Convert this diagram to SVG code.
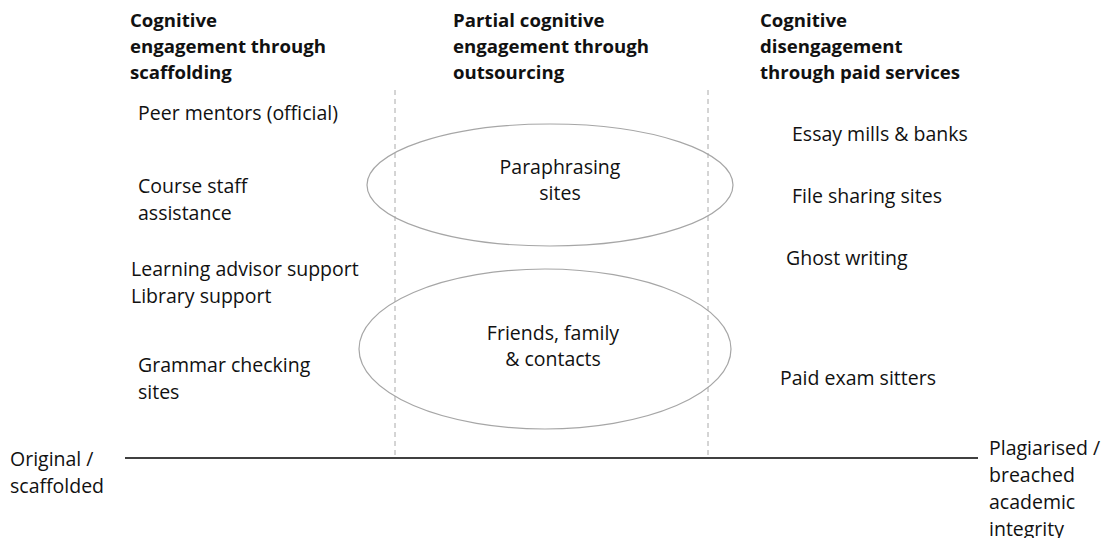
<svg xmlns="http://www.w3.org/2000/svg" width="1102" height="538" viewBox="0 0 1102 538">
<style>
text{font-family:"Open Sans","Liberation Sans",sans-serif;font-size:19.5px;fill:#111}
.h{font-weight:bold;font-size:18.6px}
.c{text-anchor:middle}
.dash{stroke:#aaa;stroke-width:1;stroke-dasharray:5,4;fill:none}
.ell{stroke:#a6a6a6;stroke-width:1.2;fill:none}
</style>
<rect width="1102" height="538" fill="#fff"/>
<g id="connectors">
<line class="dash" x1="395" y1="90" x2="395" y2="458"/>
<line class="dash" x1="708" y1="90" x2="708" y2="458"/>
<line x1="125" y1="458" x2="978" y2="458" stroke="#000" stroke-width="1.5"/>
</g>
<g id="header1"><text class="h" x="130" y="27">Cognitive</text><text class="h" x="130" y="53">engagement through</text><text class="h" x="130" y="79">scaffolding</text></g>
<g id="header2"><text class="h" x="453" y="27">Partial cognitive</text><text class="h" x="453" y="53">engagement through</text><text class="h" x="453" y="79">outsourcing</text></g>
<g id="header3"><text class="h" x="760" y="27">Cognitive</text><text class="h" x="760" y="53">disengagement</text><text class="h" x="760" y="79">through paid services</text></g>
<g id="peer"><text x="138" y="120">Peer mentors (official)</text></g>
<g id="course"><text x="138" y="193">Course staff</text><text x="138" y="220">assistance</text></g>
<g id="learning"><text x="131" y="276">Learning advisor support</text><text x="131" y="303">Library support</text></g>
<g id="grammar"><text x="138" y="372">Grammar checking</text><text x="138" y="399">sites</text></g>
<g id="paraphrasing"><ellipse class="ell" cx="550" cy="185" rx="183" ry="61"/><text class="c" x="560" y="174">Paraphrasing</text><text class="c" x="560" y="200">sites</text></g>
<g id="friends"><ellipse class="ell" cx="545" cy="349" rx="186" ry="80"/><text class="c" x="553" y="340">Friends, family</text><text class="c" x="553" y="366">&amp; contacts</text></g>
<g id="essay"><text x="792" y="141">Essay mills &amp; banks</text></g>
<g id="file"><text x="792" y="203">File sharing sites</text></g>
<g id="ghost"><text x="786" y="265">Ghost writing</text></g>
<g id="exam"><text x="780" y="385">Paid exam sitters</text></g>
<g id="original"><text x="10" y="466">Original /</text><text x="10" y="493">scaffolded</text></g>
<g id="plagiarised"><text x="989" y="455">Plagiarised /</text><text x="989" y="482">breached</text><text x="989" y="509">academic</text><text x="989" y="536">integrity</text></g>
</svg>
